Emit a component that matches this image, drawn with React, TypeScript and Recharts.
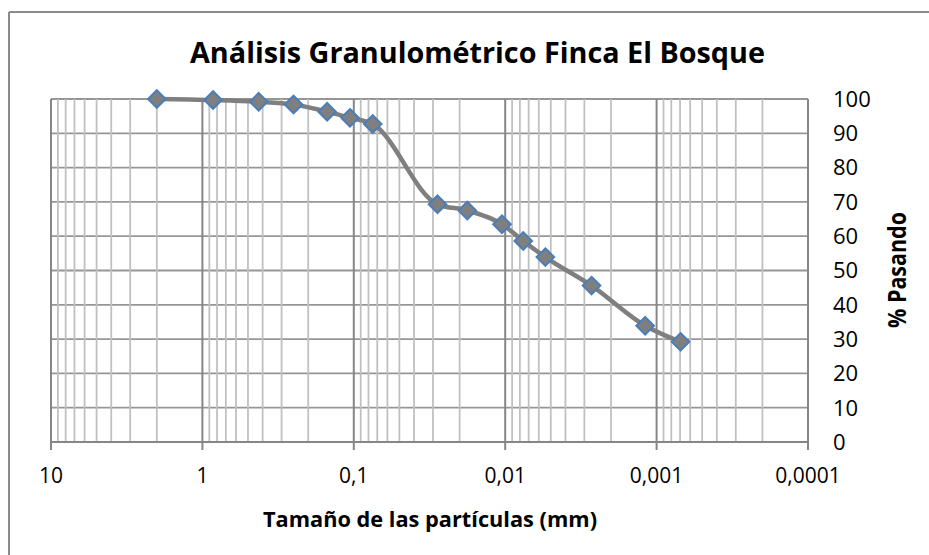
import React from 'react';
import { LineChart, Line, XAxis, YAxis, CartesianGrid, ReferenceLine } from 'recharts';

// Particle size (mm) and percent passing
const sizesMm = [2.0, 0.85, 0.425, 0.25, 0.15, 0.106, 0.075, 0.028, 0.0178, 0.0105, 0.0076, 0.00543, 0.00269, 0.00119, 0.000695];
const percentPassing = [100, 99.7, 99.2, 98.4, 96.3, 94.5, 92.7, 69.3, 67.5, 63.5, 58.6, 53.9, 45.6, 33.9, 29.2];

const xTicks = [10, 1, 0.1, 0.01, 0.001, 0.0001];
const xTickLabels = ['10', '1', '0,1', '0,01', '0,001', '0,0001'];
const yTicks = [0, 10, 20, 30, 40, 50, 60, 70, 80, 90, 100];
const decadeStarts = [0.0001, 0.001, 0.01, 0.1, 1];
const minorMultipliers = [2, 3, 4, 5, 6, 7, 8, 9];

const title = 'Análisis Granulométrico Finca El Bosque';
const xTitle = 'Tamaño de las partículas (mm)';
const yTitle = '% Pasando';

const data = sizesMm.map((s, i) => ({ size: s, pct: percentPassing[i] }));
const minorLines: number[] = [];
decadeStarts.forEach((d) => minorMultipliers.forEach((m) => minorLines.push(parseFloat((m * d).toPrecision(6)))));

const fmtX = (v: number) => {
  const i = xTicks.findIndex((t) => Math.abs(t - v) / t < 1e-6);
  return i >= 0 ? xTickLabels[i] : String(v);
};

const Diamond = (props: any) => {
  const { cx, cy } = props;
  if (cx == null || cy == null) return null;
  const r = 8.8;
  return (
    <polygon
      key={`d-${cx}-${cy}`}
      points={`${cx},${cy - r} ${cx + r},${cy} ${cx},${cy + r} ${cx - r},${cy}`}
      fill="#7f7f7f"
      stroke="#4a7ebb"
      strokeWidth={2}
    />
  );
};

export default function App() {
  return (
    <div style={{ position: 'absolute', left: 0, top: 0, width: 929, height: 555, background: '#fff' }}>
      <LineChart width={929} height={555} data={data} margin={{ top: 99, right: 41, bottom: 53, left: 51 }}>
        <CartesianGrid vertical={false} stroke="#969696" strokeWidth={1.8} />
        {minorLines.map((v) => (
          <ReferenceLine key={`m${v}`} x={v} stroke="#c0c0c0" strokeWidth={1.8} />
        ))}
        {xTicks.map((v) => (
          <ReferenceLine key={`M${v}`} x={v} stroke="#868686" strokeWidth={2} />
        ))}
        <XAxis
          dataKey="size"
          type="number"
          scale="log"
          domain={[0.0001, 10]}
          reversed
          allowDataOverflow
          ticks={xTicks}
          interval={0}
          tickFormatter={fmtX}
          axisLine={{ stroke: '#868686', strokeWidth: 2 }}
          tickLine={{ stroke: '#868686', strokeWidth: 2 }}
          tickSize={8}
          tickMargin={18}
          height={60}
          tick={{ fill: '#000', fontSize: 21, fontFamily: 'Open Sans' }}
        />
        <YAxis
          orientation="right"
          type="number"
          domain={[0, 100]}
          ticks={yTicks}
          interval={0}
          axisLine={false}
          tickLine={false}
          tickSize={6}
          tickMargin={19}
          width={80}
          tick={{ fill: '#000', fontSize: 22, fontFamily: 'Open Sans', textAnchor: 'start' }}
        />
        <Line
          dataKey="pct"
          type="monotone"
          stroke="#7f7f7f"
          strokeWidth={4.5}
          dot={<Diamond />}
          activeDot={false}
          isAnimationActive={false}
        />
      </LineChart>
      <svg width={929} height={555} style={{ position: 'absolute', left: 0, top: 0, pointerEvents: 'none' }}>
        <line x1={9} y1={12} x2={9} y2={555} stroke="#8a8a8a" strokeWidth={2} />
        <line x1={9} y1={12} x2={929} y2={12} stroke="#8a8a8a" strokeWidth={2} />
        <text
          x={190}
          y={63}
          fontFamily="Open Sans"
          fontWeight="bold"
          fontSize={29}
          textLength={575}
          lengthAdjust="spacingAndGlyphs"
          fill="#000"
        >
          {title}
        </text>
        <text
          x={263}
          y={527}
          fontFamily="Open Sans"
          fontWeight="bold"
          fontSize={21}
          textLength={334}
          lengthAdjust="spacingAndGlyphs"
          fill="#000"
        >
          {xTitle}
        </text>
        <text
          x={0}
          y={0}
          transform="translate(906,328) rotate(-90)"
          fontFamily="Open Sans"
          fontWeight="bold"
          fontSize={25}
          textLength={116}
          lengthAdjust="spacingAndGlyphs"
          fill="#000"
        >
          {yTitle}
        </text>
      </svg>
    </div>
  );
}
